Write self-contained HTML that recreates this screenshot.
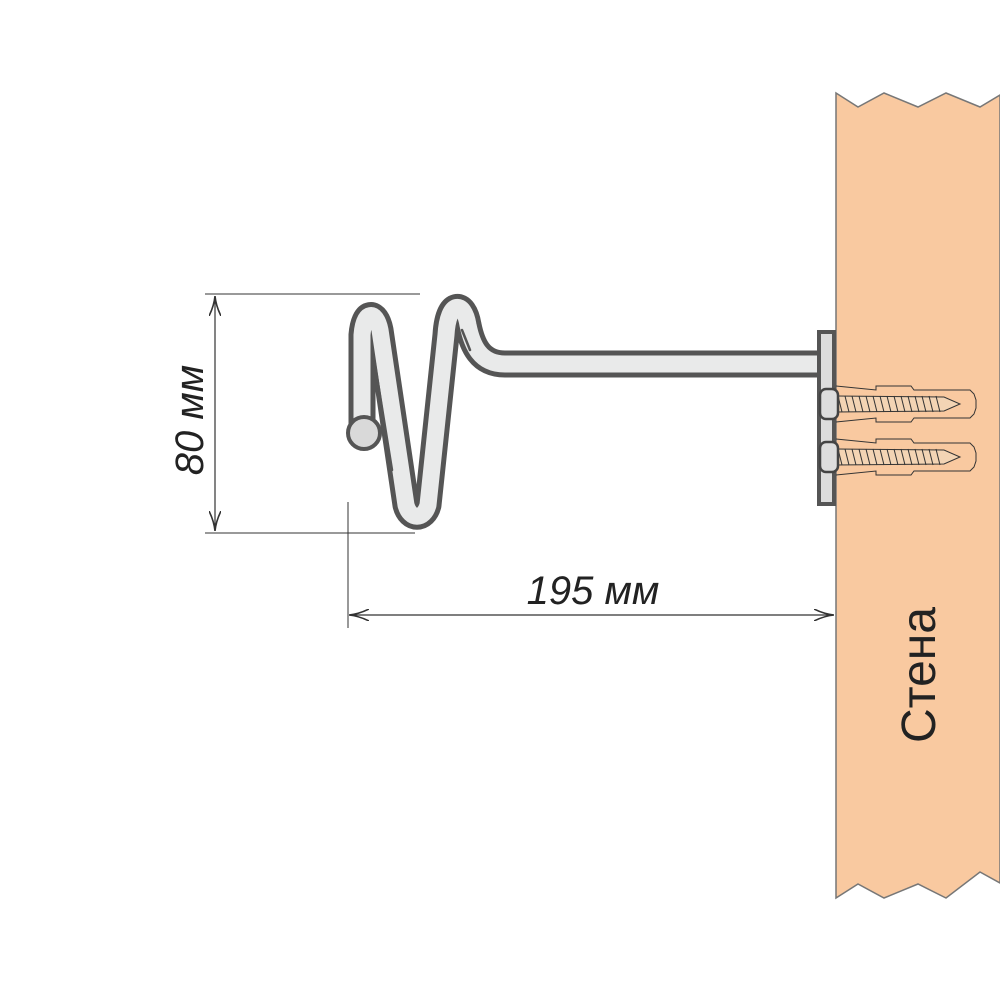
<!DOCTYPE html>
<html><head><meta charset="utf-8"><style>body{margin:0;background:#fff}svg{display:block}</style></head>
<body>
<svg width="1000" height="1000" viewBox="0 0 1000 1000" xmlns="http://www.w3.org/2000/svg">
<defs>
<marker id="ar" viewBox="0 0 20 12" refX="19" refY="6" markerWidth="20" markerHeight="12" markerUnits="userSpaceOnUse" orient="auto-start-reverse">
<path d="M0,0 Q10,5 20,6 Q10,7 0,12" fill="none" stroke="#333" stroke-width="1.6"/>
</marker>
<g id="screw">
<path d="M0,-18 L40,-14 L40,-18 L75,-18 L78,-14 L128,-14 L134,-14 L138,-10 L140,-4 L140,4 L138,10 L134,14 L78,14 L75,18 L40,18 L40,14 L0,18" fill="none" stroke="#333" stroke-width="1"/>
<path d="M0,-8 L108,-7 L124,0 L108,7 L0,8" fill="#f3d4b4" stroke="#333" stroke-width="1"/>
<path d="M2,-8 l4,16 M9,-8 l4,16 M16,-8 l4,16 M23,-8 l4,16 M30,-8 l4,16 M37,-8 l4,16 M44,-8 l4,16 M51,-8 l4,16 M58,-8 l4,16 M65,-8 l4,16 M72,-8 l4,16 M79,-8 l4,16 M86,-8 l4,16 M93,-8 l4,16 M100,-8 l4,16" stroke="#333" stroke-width="1"/>
<rect x="-16" y="-15" width="18" height="30" rx="6" fill="#ddd" stroke="#444" stroke-width="2.5"/>
</g>
</defs>
<path d="M836,93 L858,107 L884,93 L918,107 L946,93 L980,107 L1000,95 L1000,883 L980,872 L946,898 L918,884 L884,898 L858,884 L836,898 Z" fill="#f9c9a0" stroke="#777" stroke-width="1.5"/>
<g fill="none" stroke-linecap="round" stroke-linejoin="round">
<path d="M818,364 L505,364 C480,364 472,345 468,325 C464,300 448,300 446,335 L428,505 C424,520 410,520 406,505 L380,330 C376,310 364,310 362,335 L362,430" stroke="#555" stroke-width="27"/>
<path d="M818,364 L505,364 C480,364 472,345 468,325 C464,300 448,300 446,335 L428,505 C424,520 410,520 406,505 L380,330 C376,310 364,310 362,335 L362,430" stroke="#e9eaea" stroke-width="17"/>
<path d="M373,352 L392,470" stroke="#555" stroke-width="2.5"/>
<path d="M462,330 L470,350" stroke="#555" stroke-width="2.5"/>
</g>
<circle cx="364" cy="433" r="16" fill="#d9d9d9" stroke="#555" stroke-width="4"/>
<rect x="819" y="332" width="15" height="172" fill="#dcdcdc" stroke="#555" stroke-width="4"/>
<use href="#screw" x="836" y="404"/>
<use href="#screw" x="836" y="457"/>
<g stroke="#333" stroke-width="1">
<line x1="205" y1="294" x2="420" y2="294"/>
<line x1="205" y1="533" x2="415" y2="533"/>
<line x1="348" y1="502" x2="348" y2="628"/>
</g>
<line x1="215" y1="297" x2="215" y2="530" stroke="#333" stroke-width="1.2" marker-start="url(#ar)" marker-end="url(#ar)"/>
<line x1="350" y1="615" x2="833" y2="615" stroke="#333" stroke-width="1.2" marker-start="url(#ar)" marker-end="url(#ar)"/>
<g font-family="'Liberation Sans Narrow','Liberation Sans',sans-serif" font-style="italic" fill="#222">
<text x="593" y="604" font-size="40" text-anchor="middle">195 мм</text>
<text transform="translate(203,420) rotate(-90)" font-size="40" text-anchor="middle">80 мм</text>
<text transform="translate(935,675) rotate(-90)" font-size="48" font-style="normal" text-anchor="middle">Стена</text>
</g>
</svg>
</body></html>
